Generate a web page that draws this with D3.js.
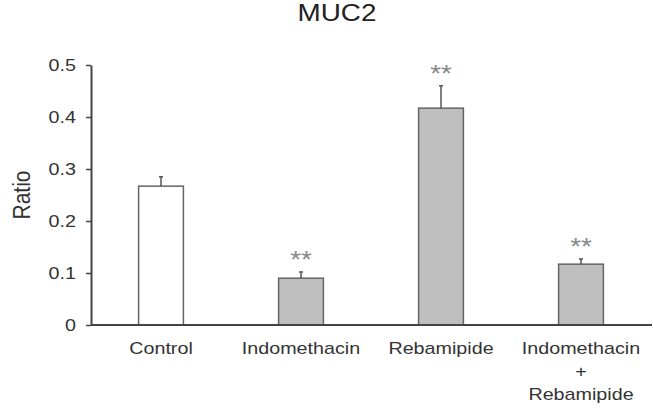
<!DOCTYPE html>
<html><head><meta charset="utf-8">
<script src="https://cdn.jsdelivr.net/npm/d3@7"></script>
<style>body{margin:0;background:#fff}svg{display:block}text{font-family:"Liberation Sans",Arial,sans-serif}</style>
</head><body>
<svg id="c" width="653" height="411"></svg>
<script>
const categories = ["Control", "Indomethacin", "Rebamipide", "Indomethacin\n+\nRebamipide"];
const values = [0.267, 0.090, 0.417, 0.117];
const errors = [0.018, 0.012, 0.043, 0.010];
const significance = ["", "**", "**", "**"];
const fills = ["#ffffff", "#bfbfbf", "#bfbfbf", "#bfbfbf"];
const yTicks = [0, 0.1, 0.2, 0.3, 0.4, 0.5];
const title = "MUC2";
const yLabel = "Ratio";

const SX = 1.16;
const svg = d3.select("#c");
const x = d3.scaleBand().domain(categories.map((d,i)=>i)).range([91, 651]).paddingInner(0.68).paddingOuter(0.34);
const y = d3.scaleLinear().domain([0, 0.5]).range([325, 65]);

function stext(px, py, size, fill, anchor) {
  return svg.append("g").attr("transform", `translate(${px},${py}) scale(${SX},1)`)
    .append("text").attr("text-anchor", anchor || "middle").attr("font-size", size).attr("fill", fill);
}

stext(337, 21, 24, "#222").text(title);

// y axis
const ya = svg.append("g").attr("transform", "translate(91,0)")
  .call(d3.axisLeft(y).tickValues(yTicks).tickSize(5).tickSizeOuter(0).tickFormat(""));
ya.select(".domain").attr("stroke", "#444").attr("stroke-width", 2);
ya.selectAll(".tick line").attr("stroke", "#444").attr("stroke-width", 1.5);
yTicks.forEach(t => {
  stext(76, y(t) + 6, 17, "#333", "end").text(t === 0 ? "0" : d3.format(".1f")(t));
});

svg.append("g").attr("transform", "translate(30,195) scale(1.1,1) rotate(-90)")
  .append("text").attr("text-anchor", "middle").attr("font-size", 21).attr("fill", "#333").text(yLabel);

// bars
const g = svg.append("g");
values.forEach((v, i) => {
  const bx = x(i), bw = x.bandwidth(), cx = bx + bw / 2;
  g.append("rect").attr("x", bx).attr("y", y(v)).attr("width", bw).attr("height", y(0) - y(v))
    .attr("fill", fills[i]).attr("stroke", "#666").attr("stroke-width", 1.5);
  g.append("line").attr("x1", cx).attr("x2", cx).attr("y1", y(v)).attr("y2", y(v + errors[i]))
    .attr("stroke", "#555").attr("stroke-width", 1.5);
  g.append("line").attr("x1", cx - 2).attr("x2", cx + 2).attr("y1", y(v + errors[i])).attr("y2", y(v + errors[i]))
    .attr("stroke", "#555").attr("stroke-width", 1.5);
  if (significance[i]) {
    stext(cx, y(v + errors[i]) - 4, 24, "#888").text(significance[i]);
  }
});

// x axis
const xa = svg.append("g").attr("transform", "translate(0,325)")
  .call(d3.axisBottom(x).tickSize(0).tickSizeOuter(0).tickFormat(""));
xa.select(".domain").attr("stroke", "#444").attr("stroke-width", 2).attr("d", "M91,0H652");
categories.forEach((c, i) => {
  const cx = x(i) + x.bandwidth() / 2;
  c.split("\n").forEach((line, k) => {
    stext(cx, 354 + k * 23, 17, "#333").text(line);
  });
});
</script>
</body></html>
